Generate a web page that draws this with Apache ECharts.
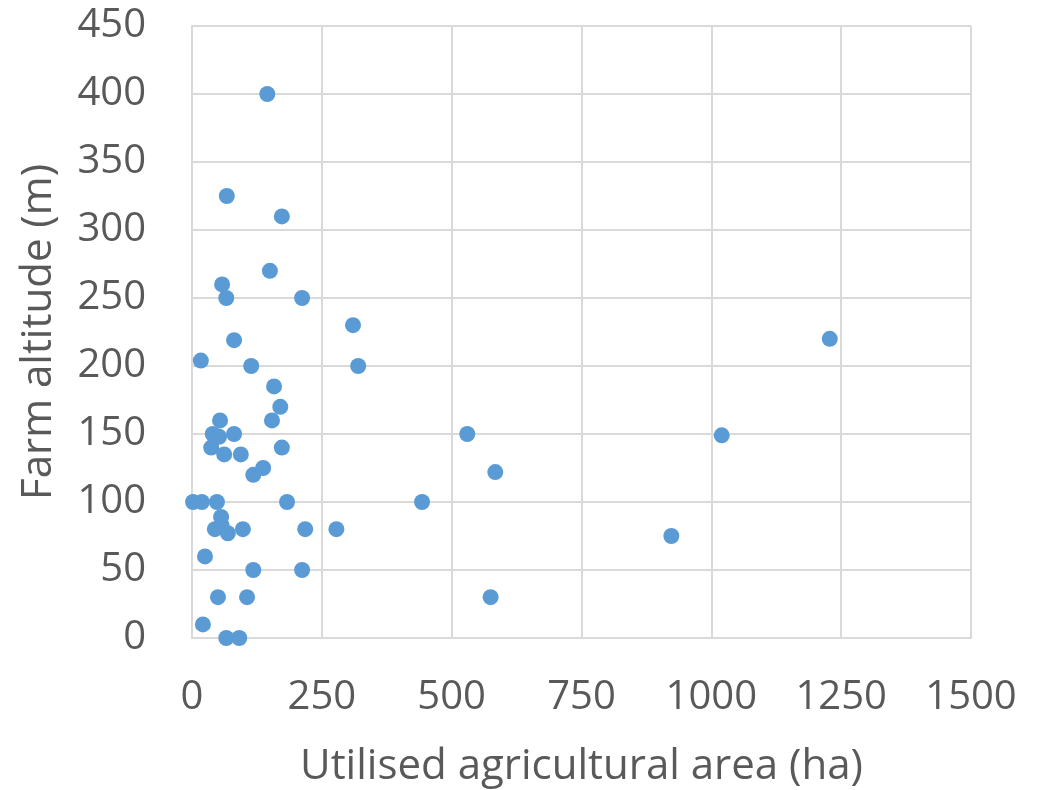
<!DOCTYPE html>
<html>
<head>
<meta charset="utf-8">
<script src="https://cdn.jsdelivr.net/npm/echarts@6/dist/echarts.min.js"></script>
<style>html,body{margin:0;padding:0;background:#fff}#c{width:1046px;height:790px}</style>
</head>
<body>
<div id="c"></div>
<script>
const areaHa = [145,67,173,150,58,66,212,310,81,1228,17,114,320,158,170,54,154,40,52,81,530,1020,37,173,62,94,137,118,584,2,19,48,183,443,56,44,57,69,98,218,278,923,25,50,106,118,212,575,21,66,91];
const altitudeM = [400,325,310,270,260,250,250,230,219,220,204,200,200,185,170,160,160,150,148,150,150,149,140,140,135,135,125,120,122,100,100,100,100,100,89,80,83,77,80,80,80,75,60,30,30,50,50,30,10,0,0];
const xTicks = [0,250,500,750,1000,1250,1500];
const yTicks = [0,50,100,150,200,250,300,350,400,450];

const points = areaHa.map((x,i)=>[x, altitudeM[i]]);
const font = 'Open Sans';
const chart = echarts.init(document.getElementById('c'));
chart.setOption({
  animation:false,
  grid:{left:192, right:75, top:26, bottom:152, containLabel:false, outerBoundsMode:'none'},
  xAxis:{
    type:'value', min:xTicks[0], max:xTicks[xTicks.length-1], interval:250,
    name:'Utilised agricultural area (ha)', nameLocation:'middle', nameGap:108,
    nameTextStyle:{color:'#595959', fontSize:42, fontFamily:font},
    axisLine:{show:true, lineStyle:{color:'#d9d9d9', width:2}},
    axisTick:{show:false},
    axisLabel:{color:'#595959', fontSize:40, fontFamily:font, margin:40, formatter:v=>String(v)},
    splitLine:{show:true, lineStyle:{color:'#d9d9d9', width:2}}
  },
  yAxis:{
    type:'value', min:yTicks[0], max:yTicks[yTicks.length-1], interval:50,
    name:'Farm altitude (m)', nameLocation:'middle', nameGap:132,
    nameTextStyle:{color:'#595959', fontSize:42, fontFamily:font},
    axisLine:{show:true, lineStyle:{color:'#d9d9d9', width:2}},
    axisTick:{show:false},
    axisLabel:{color:'#595959', fontSize:40, fontFamily:font, margin:46, formatter:v=>String(v)},
    splitLine:{show:true, lineStyle:{color:'#d9d9d9', width:2}}
  },
  series:[{
    type:'scatter', data:points, symbolSize:16,
    itemStyle:{color:'#5b9bd5', opacity:1}
  }]
});
</script>
</body>
</html>
